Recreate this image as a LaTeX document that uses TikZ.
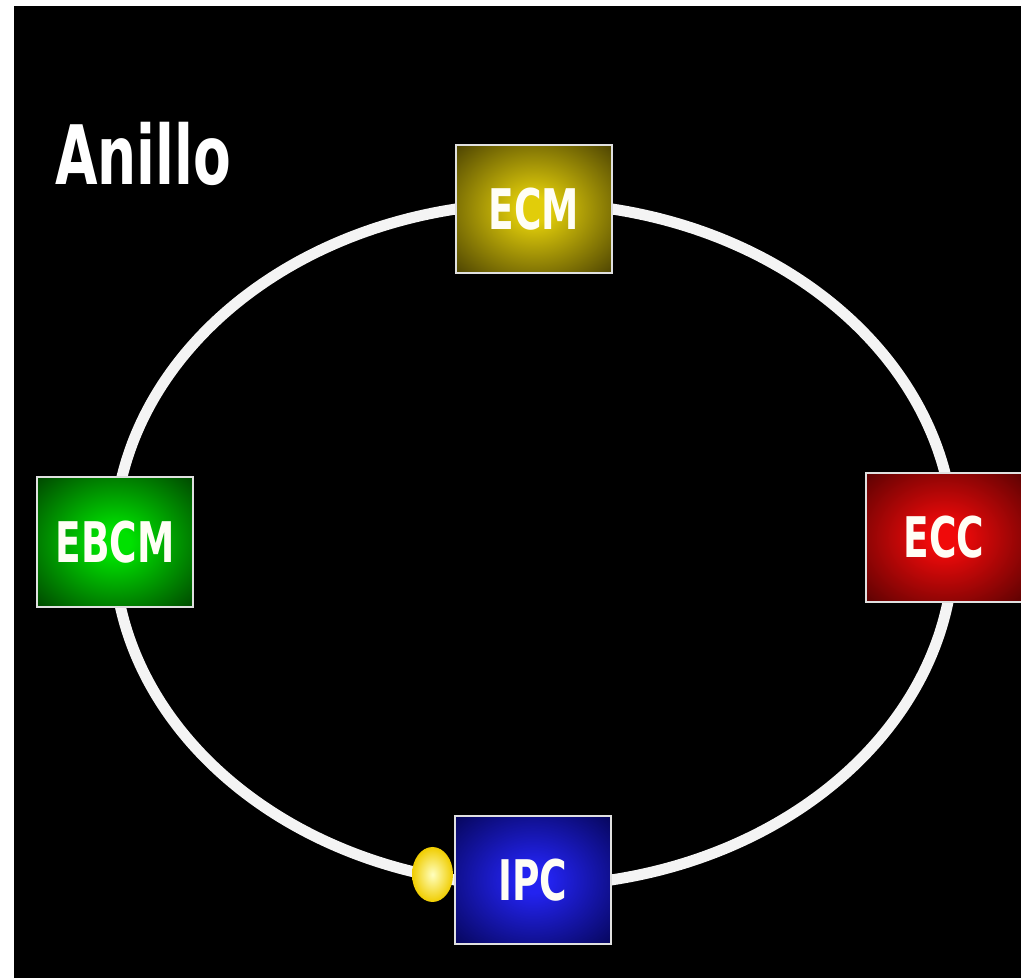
\documentclass[tikz,border=0pt]{standalone}
\usepackage{fontspec}
\usepackage{graphicx}
\setmainfont{DejaVu Sans}
\usetikzlibrary{shapes.geometric,backgrounds}
\definecolor{ecmA}{RGB}{225,205,10}
\definecolor{ecmB}{RGB}{45,38,0}
\definecolor{ebcmA}{RGB}{0,225,0}
\definecolor{ebcmB}{RGB}{0,38,0}
\definecolor{eccA}{RGB}{240,10,10}
\definecolor{eccB}{RGB}{60,0,0}
\definecolor{ipcA}{RGB}{35,35,240}
\definecolor{ipcB}{RGB}{0,0,60}
\definecolor{ringc}{RGB}{244,244,244}
\definecolor{ballA}{RGB}{255,255,190}
\definecolor{ballB}{RGB}{240,205,0}
\pgfdeclareradialshading{ecmglow}{\pgfpointorigin}{color(0bp)=(ecmA); color(5bp)=(ecmA); color(42bp)=(ecmB); color(50bp)=(ecmB)}
\pgfdeclareradialshading{ebcmglow}{\pgfpointorigin}{color(0bp)=(ebcmA); color(5bp)=(ebcmA); color(42bp)=(ebcmB); color(50bp)=(ebcmB)}
\pgfdeclareradialshading{eccglow}{\pgfpointorigin}{color(0bp)=(eccA); color(5bp)=(eccA); color(42bp)=(eccB); color(50bp)=(eccB)}
\pgfdeclareradialshading{ipcglow}{\pgfpointorigin}{color(0bp)=(ipcA); color(5bp)=(ipcA); color(42bp)=(ipcB); color(50bp)=(ipcB)}
\tikzset{
  station/.style={rectangle, minimum width=156pt, minimum height=128pt,
    inner sep=0pt, outer sep=0pt, draw=white!88!black, line width=2.5pt,
    text=white!96!yellow, font=\bfseries\fontsize{56}{60}\selectfont},
  ring/.style={draw=ringc, line width=11pt},
  title/.style={text=white, inner sep=0pt, outer sep=0pt, font=\bfseries\fontsize{82}{90}\selectfont}
}
\newcommand{\squeeze}[1]{\scalebox{0.67}[1]{#1}}
\begin{document}
\begin{tikzpicture}[x=1pt,y=1pt]
\useasboundingbox (0,0) rectangle (1021,978);
\begin{scope}[on background layer]
  \fill[white] (0,0) rectangle (1021,978);
  \fill[black] (14,0) rectangle (1030,972);
\end{scope}
\node[title, anchor=base west] (title) at (55,793) {\squeeze{Anillo}};
\node[station, shading=ecmglow] (ecm) at (534,769) {\squeeze{ECM}};
\node[station, shading=ebcmglow, minimum height=130pt] (ebcm) at (115,436) {\squeeze{EBCM}};
\node[station, shading=eccglow, minimum height=129pt] (ecc) at (944,440.5) {\squeeze{ECC}};
\node[station, shading=ipcglow] (ipc) at (533,98) {\squeeze{IPC}};
\node[ellipse, minimum width=41pt, minimum height=55pt, inner sep=0pt,
  inner color=ballA, outer color=ballB] (ball) at (432.5,103.5) {};
\begin{scope}[on background layer]
  \draw[ring] (ecm.west) arc[start angle=100.7, end angle=172, x radius=420, y radius=340];
  \draw[ring] (ecm.east) arc[start angle=79.3, end angle=8, x radius=420, y radius=340];
  \draw[ring] (ipc.east) arc[start angle=280.6, end angle=352, x radius=420, y radius=340];
  \draw[ring] (ipc.west) arc[start angle=259.2, end angle=188, x radius=420, y radius=340];
\end{scope}
\end{tikzpicture}
\end{document}
